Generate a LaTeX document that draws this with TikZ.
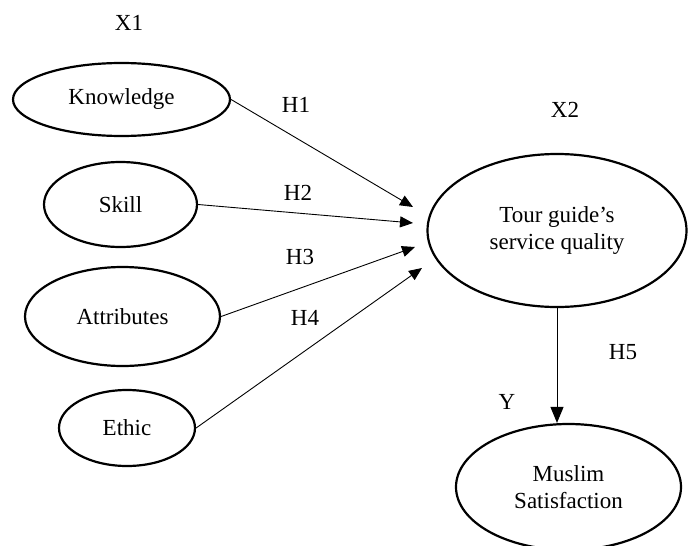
\documentclass[tikz,border=0pt]{standalone}
\usepackage{fontspec}
\setmainfont{Liberation Serif}
\usetikzlibrary{shapes.geometric,arrows.meta}
\begin{document}
\begin{tikzpicture}[x=1pt,y=-1pt,
  ell/.style={draw, ellipse, line width=2.2pt, inner sep=0pt, align=center, font=\fontsize{23}{27}\selectfont},
  lbl/.style={font=\fontsize{23}{27}\selectfont, inner sep=0pt},
  arr/.style={line width=0.9pt, -{Triangle[length=13pt,width=11pt]}},
  arrb/.style={line width=1pt, -{Triangle[length=16pt,width=13pt]}}]
\useasboundingbox (0,0) rectangle (688,546);
\node[ell, minimum width=217pt, minimum height=73pt] (know) at (121.5,99.5) {Knowledge};
\node[ell, minimum width=153pt, minimum height=85pt] (skill) at (120.5,204.5) {Skill};
\node[ell, minimum width=195pt, minimum height=99pt] (attr) at (122.5,316.5) {Attributes};
\node[ell, minimum width=136pt, minimum height=76pt] (ethic) at (127,428) {Ethic};
\node[ell, minimum width=259pt, minimum height=153pt] (tour) at (557,230.5) {Tour guide’s\\service quality};
\node[ell, minimum width=225pt, minimum height=126pt] (muslim) at (568.5,487) {Muslim\\Satisfaction};

\node[lbl] (x1) at (129,23) {X1};
\node[lbl] (x2) at (565,110) {X2};
\node[lbl] (h1) at (296,105) {H1};
\node[lbl] (h2) at (298,193) {H2};
\node[lbl] (h3) at (300,257) {H3};
\node[lbl] (h4) at (305,318) {H4};
\node[lbl] (h5) at (623,352) {H5};
\node[lbl] (y) at (507,402) {Y};

\coordinate (t1) at (413,207);
\coordinate (t2) at (413,223);
\coordinate (t3) at (415,247);
\coordinate (t4) at (422,268);

\draw[arr] (know.east) -- (t1);
\draw[arr] (skill.east) -- (t2);
\draw[arr] (attr.east) -- (t3);
\draw[arr] (ethic.east) -- (t4);
\draw[arrb] (tour.south) -- (tour.south |- muslim.north);
\end{tikzpicture}
\end{document}
